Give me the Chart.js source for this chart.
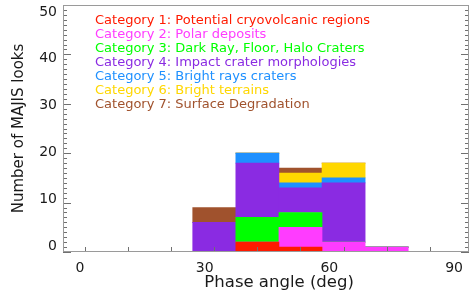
<!DOCTYPE html>
<html>
<head>
<meta charset="utf-8">
<script src="https://cdn.jsdelivr.net/npm/chart.js@4.4.1/dist/chart.umd.min.js"></script>
<style>
html,body{margin:0;padding:0;background:#fff;}
#wrap{width:471px;height:299px;}
</style>
</head>
<body>
<div id="wrap"><canvas id="c" width="471" height="299"></canvas></div>
<script>
// ---- data ----
const binCenters = [30, 40, 50, 60, 70];           // phase angle bin centres (deg)
const categoryNames = [
  'Category 1: Potential cryovolcanic regions',
  'Category 2: Polar deposits',
  'Category 3: Dark Ray, Floor, Halo Craters',
  'Category 4: Impact crater morphologies',
  'Category 5: Bright rays craters',
  'Category 6: Bright terrains',
  'Category 7: Surface Degradation'
];
const cat1 = [0, 2, 1, 0, 0];
const cat2 = [0, 0, 4, 2, 1];
const cat3 = [0, 5, 3, 0, 0];
const cat4 = [6, 11, 5, 12, 0];
const cat5 = [0, 2, 1, 1, 0];
const cat6 = [0, 0, 2, 3, 0];
const cat7 = [3, 0, 1, 0, 0];
const categoryColors = ['#ff1a00', '#ff3cff', '#00ff00', '#8a2be2', '#1e90ff', '#ffd700', '#a0522d'];
const xTickLabels = [0, 30, 60, 90];
const yTickLabels = [0, 10, 20, 30, 40, 50];
const xTickMarks = [0, 10, 20, 30, 40, 50, 60, 70, 80];
const yMinorTicks = [0,1,2,3,4,5,6,7,8,9,10,11,12,13,14,15,16,17,18,19,20,21,22,23,24,25,26,27,28,29,30,31,32,33,34,35,36,37,38,39,40,41,42,43,44,45,46,47,48,49,50];
const yMajorTicks = [0, 10, 20, 30, 40, 50];

const series = [cat1, cat2, cat3, cat4, cat5, cat6, cat7];
const axisColor = '#9a9a9a';
const tickColor = '#707070';
const textColor = '#1a1a1a';
const FONT = 'DejaVu Sans';

const noPad = s => { s.paddingTop = 0; s.paddingBottom = 0; s.paddingLeft = 0; s.paddingRight = 0; };

const framePlugin = {
  id: 'frameTicks',
  afterDatasetsDraw(chart) {
    const {ctx, chartArea: a, scales} = chart;
    ctx.save();
    ctx.lineWidth = 1;
    ctx.strokeStyle = tickColor;
    ctx.beginPath();
    xTickMarks.forEach(v => {
      const px = Math.round(scales.x.getPixelForValue(v)) + 0.5;
      ctx.moveTo(px, a.bottom);
      ctx.lineTo(px, a.bottom - 5);
    });
    yMinorTicks.forEach(v => {
      const py = Math.round(scales.y.getPixelForValue(v)) + 0.5;
      const len = yMajorTicks.includes(v) ? 8 : 4;
      ctx.moveTo(a.left, py); ctx.lineTo(a.left + len, py);
      ctx.moveTo(a.right, py); ctx.lineTo(a.right - len, py);
    });
    ctx.stroke();
    ctx.strokeStyle = axisColor;
    ctx.strokeRect(a.left + 0.5, a.top + 0.5, a.right - a.left - 1, a.bottom - a.top - 1);
    ctx.restore();
  }
};

new Chart(document.getElementById('c').getContext('2d'), {
  type: 'bar',
  data: {
    datasets: series.map((s, i) => ({
      label: categoryNames[i],
      data: binCenters.map((x, j) => ({x: x, y: s[j]})),
      backgroundColor: categoryColors[i],
      borderWidth: 0,
      barPercentage: 1,
      categoryPercentage: 1,
      xAxisID: 'x',
      yAxisID: 'y'
    }))
  },
  options: {
    responsive: false,
    animation: false,
    devicePixelRatio: 1,
    layout: {padding: {top: 5, right: 2, left: 0, bottom: 0}},
    plugins: {
      tooltip: {enabled: false},
      legend: {
        position: 'chartArea',
        align: 'start',
        title: {display: true, text: '', font: {size: 1}, padding: {top: 12, bottom: 0}},
        labels: {
          boxWidth: 24.5,
          boxHeight: 0,
          padding: 1,
          font: {family: FONT, size: 13},
          generateLabels: chart => chart.data.datasets.map((d, i) => ({
            text: d.label,
            fontColor: d.backgroundColor,
            fillStyle: 'rgba(0,0,0,0)',
            strokeStyle: 'rgba(0,0,0,0)',
            lineWidth: 0,
            hidden: false,
            datasetIndex: i
          }))
        }
      }
    },
    scales: {
      x: {
        type: 'linear', display: false, stacked: true, offset: false, min: -5.1, max: 89.1,
        afterBuildTicks: s => { s.ticks = binCenters.map(v => ({value: v})); }
      },
      y: {type: 'linear', display: false, stacked: true, min: 0, max: 50},
      xl: {
        type: 'linear', position: 'bottom', offset: false, min: -4.09, max: 93.6,
        afterBuildTicks: s => { s.ticks = xTickLabels.map(v => ({value: v})); },
        grid: {display: false, drawTicks: false, offset: false},
        border: {display: false},
        ticks: {padding: 8, color: textColor, font: {family: FONT, size: 14}, maxRotation: 0, autoSkip: false},
        title: {display: true, text: '     Phase angle (deg)', color: textColor, font: {family: FONT, size: 16.5}, padding: {top: 0, bottom: 6}},
        afterFit: s => { s.height = 47; noPad(s); }
      },
      yl: {
        type: 'linear', position: 'left', min: -1.28, max: 51.5,
        afterBuildTicks: s => { s.ticks = yTickLabels.map(v => ({value: v})); },
        grid: {display: false, drawTicks: false},
        border: {display: false},
        ticks: {padding: 6, color: textColor, font: {family: FONT, size: 14}, autoSkip: false},
        title: {display: true, text: 'Number of MAJIS looks', color: textColor, font: {family: FONT, size: 15}, padding: {top: 10, bottom: 0}},
        afterFit: s => { s.width = 63; noPad(s); }
      }
    }
  },
  plugins: [framePlugin]
});
</script>
</body>
</html>
